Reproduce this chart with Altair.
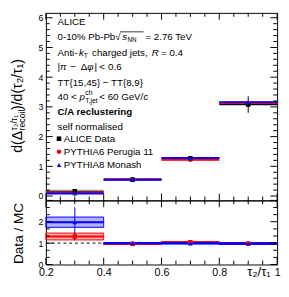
import altair as alt
import pandas as pd

# ---------------- data ----------------
bin_lo = [0.2, 0.4, 0.6, 0.8]
bin_hi = [0.4, 0.6, 0.8, 1.0]
bin_mid = [0.3, 0.5, 0.7, 0.9]
alice = [0.16, 0.55, 1.27, 3.08]
alice_stat = [0.05, 0.04, 0.06, 0.28]
alice_syst = [0.06, 0.04, 0.04, 0.05]
perugia = [0.12, 0.565, 1.22, 3.13]
perugia_err = [0.015, 0.02, 0.03, 0.04]
monash = [0.085, 0.55, 1.28, 3.16]
monash_err = [0.015, 0.02, 0.03, 0.04]
ratio_perugia = [1.31, 0.97, 1.04, 0.98]
ratio_perugia_band = [0.16, 0.03, 0.03, 0.03]
ratio_perugia_lo = [1.2, 0.95, 1.01, 0.96]
ratio_perugia_hi = [1.42, 0.99, 1.07, 1.0]
ratio_monash = [1.98, 1.0, 0.99, 0.98]
ratio_monash_band = [0.24, 0.03, 0.03, 0.03]
ratio_monash_lo = [1.14, 0.97, 0.97, 0.96]
ratio_monash_hi = [2.68, 1.03, 1.01, 1.0]

x_ticks = [0.2, 0.4, 0.6, 0.8, 1.0]
y_ticks_top = [0, 1, 2, 3, 4, 5, 6]
y_ticks_bot = [0, 1, 2]

df = pd.DataFrame(dict(
    lo=bin_lo, hi=bin_hi, mid=bin_mid,
    alice=alice, alice_stat=alice_stat, alice_syst=alice_syst,
    perugia=perugia, perugia_err=perugia_err,
    monash=monash, monash_err=monash_err,
    r6=ratio_perugia, r6b=ratio_perugia_band, r6lo=ratio_perugia_lo, r6hi=ratio_perugia_hi,
    r8=ratio_monash, r8b=ratio_monash_band, r8lo=ratio_monash_lo, r8hi=ratio_monash_hi,
))

FONT = "Liberation Sans"
RED = "#ff0000"
BLUE = "#0000ff"
W = 238
HT = 193
HB = 66

xs = alt.Scale(domain=[0.2, 1.0], nice=False, zero=False)
ys_top = alt.Scale(domain=[-0.147, 6.1635], nice=False, zero=False)
ys_bot = alt.Scale(domain=[0, 3], nice=False, zero=False)

ya_top = alt.Axis(values=y_ticks_top, format="d", ticks=False, domain=False, grid=False,
                  title=None, labelFont=FONT, labelFontSize=9, labelPadding=3, labelColor="black")
ya_bot = alt.Axis(values=y_ticks_bot, format="d", ticks=False, domain=False, grid=False,
                  title=None, labelFont=FONT, labelFontSize=9, labelPadding=3, labelColor="black")
xa_bot = alt.Axis(values=x_ticks, ticks=False, domain=False, grid=False, title=None,
                  labelFont=FONT, labelFontSize=11, labelPadding=2, labelFlush=False,
                  labelColor="black",
                  labelExpr="datum.value == 1 ? '1' : format(datum.value, '.1f')")

one = pd.DataFrame({"a": [0]})

# screen -> plot offsets
OX, OYT, OYB = 45.5, 8, 201


def piece(s, x, y, size=10, style="normal", weight="normal", angle=0,
          align="left", baseline="middle", color="black", oy=OYT):
    """A text piece placed at screen position (x, y)."""
    return alt.Chart(one).mark_text(
        text=s, font=FONT, fontSize=size, fontStyle=style, fontWeight=weight,
        angle=angle, align=align, baseline=baseline, color=color
    ).encode(x=alt.value(x - OX), y=alt.value(y - oy))


FS = 10
top_text = [
    piece("ALICE", 57.5, 17, FS),
    # 0-10% Pb-Pb sqrt(s_NN) = 2.76 TeV
    piece("0-10% Pb-Pb", 57.5, 33, FS),
    piece("√", 117, 33, FS),
    piece("s", 124, 33, FS, style="italic"),
    piece("NN", 129.5, 36, 6.5),
    piece("= 2.76 TeV", 148, 33, FS),
    # Anti-kT charged jets, R = 0.4
    piece("Anti-", 57.5, 49, FS),
    piece("k", 79.5, 49, FS, style="italic"),
    piece("T", 84.5, 52, 7),
    piece("charged jets,", 93, 49, FS),
    piece("R", 154.5, 49, FS, style="italic"),
    piece("= 0.4", 164, 49, FS),
    # |pi - dphi| < 0.6
    piece("|", 57.5, 64, FS),
    piece("π", 60, 64, FS, style="italic"),
    piece("−", 70.5, 64, FS),
    piece("Δ", 81.5, 64, FS),
    piece("φ", 88, 64, FS, style="italic"),
    piece("|", 95.5, 64, FS),
    piece("<", 100.5, 64, FS),
    piece("0.6", 109.5, 64, FS),
    piece("TT{15,45} − TT{8,9}", 57.5, 80, FS),
    # 40 < p^ch_T,jet < 60 GeV/c
    piece("40 <", 57.5, 95, FS),
    piece("p", 80, 95, FS, style="italic"),
    piece("ch", 86, 91, 7),
    piece("T,jet", 86, 98.5, 7),
    piece("< 60 GeV/", 100.5, 95, FS),
    piece("c", 146, 95, FS, style="italic"),
    piece("C/A reclustering", 57.5, 110.5, FS, weight="bold"),
    piece("self normalised", 57.5, 125.5, FS),
]
# sqrt overline
top_text.append(alt.Chart(one).mark_rule(color="black", strokeWidth=0.8).encode(
    x=alt.value(122 - OX), x2=alt.value(146 - OX), y=alt.value(27.5 - OYT)))

# legend
leg_rows = [("ALICE Data", "square", "black", 137.5),
            ("PYTHIA6 Perugia 11", "circle", RED, 151),
            ("PYTHIA8 Monash", "triangle-up", BLUE, 164.5)]
for lab, shp, col, yy in leg_rows:
    top_text.append(alt.Chart(one).mark_point(shape=shp, filled=True, size=22, color=col,
                                              opacity=1).encode(x=alt.value(59 - OX),
                                                                y=alt.value(yy - OYT)))
    top_text.append(piece(lab, 64, yy, FS))

# rotated y title (top panel), reads bottom -> top
yt = [
    piece("d(Δ", 17, 152, 14.5, angle=270),
    piece("τ₂/τ₁", 12.5, 129, 9, angle=270),
    piece("recoil", 21.5, 129, 9, angle=270),
    piece(")/d(τ₂/τ₁)", 17, 108, 14.5, angle=270),
]
# invisible guard fixing the left extent of the whole figure
yt.append(alt.Chart(one).mark_rule(opacity=0, strokeWidth=0.1).encode(
    x=alt.value(7.5 - OX), x2=alt.value(9 - OX), y=alt.value(100)))

base = alt.Chart(df)


def X(f, axis=None):
    return alt.X(f, type="quantitative", scale=xs, axis=axis)


# ---------------- top panel ----------------
YT = lambda f: alt.Y(f, type="quantitative", scale=ys_top, axis=ya_top)

t_syst = base.transform_calculate(a="datum.alice - datum.alice_syst",
                                  b="datum.alice + datum.alice_syst").mark_rect(
    color="#a8a8a8", opacity=0.7).encode(x=X("lo"), x2="hi", y=YT("a"), y2="b")
t_data = base.mark_rule(color="black", strokeWidth=1).encode(x=X("lo"), x2="hi", y=YT("alice"))
t_p6b = base.transform_calculate(a="datum.perugia - datum.perugia_err",
                                 b="datum.perugia + datum.perugia_err").mark_rect(
    color=RED, opacity=0.3).encode(x=X("lo"), x2="hi", y=YT("a"), y2="b")
t_p6 = base.mark_rule(color=RED, strokeWidth=2).encode(x=X("lo"), x2="hi", y=YT("perugia"))
t_p8b = base.transform_calculate(a="datum.monash - datum.monash_err",
                                 b="datum.monash + datum.monash_err").mark_rect(
    color=BLUE, opacity=0.3).encode(x=X("lo"), x2="hi", y=YT("a"), y2="b")
t_p8 = base.mark_rule(color=BLUE, strokeWidth=2).encode(x=X("lo"), x2="hi", y=YT("monash"))
t_err = base.transform_calculate(a="datum.alice - datum.alice_stat",
                                 b="datum.alice + datum.alice_stat").mark_rule(
    color="black", strokeWidth=1).encode(x=X("mid"), y=YT("a"), y2="b")
t_m6 = base.mark_point(shape="circle", filled=True, size=22, color=RED, opacity=1).encode(
    x=X("mid"), y=YT("perugia"))
t_md = base.mark_point(shape="square", filled=True, size=22, color="black", opacity=1).encode(
    x=X("mid"), y=YT("alice"))
t_m8 = base.mark_point(shape="triangle-up", filled=True, size=24, color=BLUE, opacity=1).encode(
    x=X("mid"), y=YT("monash"))


def tick_layers(xmaj, xmin, ymaj, ymin, H, Yenc, xaxis):
    lays = []
    for vals, ln in ((xmaj, 7), (xmin, 4)):
        d = alt.Chart(pd.DataFrame({"v": vals}))
        lays.append(d.mark_rule(color="black", strokeWidth=1).encode(
            x=X("v", xaxis), y=alt.value(H), y2=alt.value(H - ln)))
        lays.append(d.mark_rule(color="black", strokeWidth=1).encode(
            x=X("v", xaxis), y=alt.value(0), y2=alt.value(ln)))
    for vals, ln in ((ymaj, 7), (ymin, 4)):
        d = alt.Chart(pd.DataFrame({"v": vals}))
        lays.append(d.mark_rule(color="black", strokeWidth=1).encode(
            y=Yenc("v"), x=alt.value(0), x2=alt.value(ln)))
        lays.append(d.mark_rule(color="black", strokeWidth=1).encode(
            y=Yenc("v"), x=alt.value(W), x2=alt.value(W - ln)))
    return lays


x_minor = [round(0.2 + 0.05 * i, 2) for i in range(17) if i % 4 != 0]
y_minor_top = [round(0.2 * i, 1) for i in range(31) if i % 5 != 0]
y_minor_bot = [i / 3 for i in range(10) if i % 3 != 0]

top_ticks = tick_layers(x_ticks, x_minor, y_ticks_top, y_minor_top, HT, YT, None)

top = alt.layer(t_syst, t_data, t_p6b, t_p6, t_p8b, t_p8, t_err, t_m6, t_md, t_m8,
                *top_ticks, *top_text, *yt).properties(width=W, height=HT)

# ---------------- bottom panel ----------------
YB = lambda f: alt.Y(f, type="quantitative", scale=ys_bot, axis=ya_bot)
XB = lambda f: X(f, xa_bot)

b_one = alt.Chart(pd.DataFrame({"lo": [0.2], "hi": [1.0], "y": [1.0]})).mark_rule(
    color="black", strokeWidth=1, strokeDash=[3, 3]).encode(x=XB("lo"), x2="hi", y=YB("y"))
b_r6b = base.transform_calculate(a="datum.r6 - datum.r6b", b="datum.r6 + datum.r6b").mark_rect(
    fill=RED, fillOpacity=0.3, stroke=RED, strokeWidth=1).encode(x=XB("lo"), x2="hi", y=YB("a"), y2="b")
b_r6 = base.mark_rule(color=RED, strokeWidth=2).encode(x=XB("lo"), x2="hi", y=YB("r6"))
b_r8b = base.transform_calculate(a="datum.r8 - datum.r8b", b="datum.r8 + datum.r8b").mark_rect(
    fill=BLUE, fillOpacity=0.3, stroke=BLUE, strokeWidth=1).encode(x=XB("lo"), x2="hi", y=YB("a"), y2="b")
b_r8 = base.mark_rule(color=BLUE, strokeWidth=2).encode(x=XB("lo"), x2="hi", y=YB("r8"))
b_e6 = base.mark_rule(color=RED, strokeWidth=1).encode(x=XB("mid"), y=YB("r6lo"), y2="r6hi")
b_e8 = base.mark_rule(color=BLUE, strokeWidth=1).encode(x=XB("mid"), y=YB("r8lo"), y2="r8hi")
b_m6 = base.mark_point(shape="square", filled=True, size=22, color=RED, opacity=1).encode(
    x=XB("mid"), y=YB("r6"))
b_m8 = base.mark_point(shape="triangle-up", filled=True, size=24, color=BLUE, opacity=1).encode(
    x=XB("mid"), y=YB("r8"))

bot_ticks = tick_layers(x_ticks, x_minor, [0, 1, 2, 3], y_minor_bot, HB, YB, xa_bot)
bot_text = [
    piece("Data / MC", 18, 235, 14, angle=270, align="center", oy=OYB),
    piece("τ₂/τ₁", 277, 281.5, 13.5, align="right", baseline="bottom", oy=OYB),
]

bottom = alt.layer(b_one, b_r6b, b_r6, b_r8b, b_r8, b_e6, b_e8, b_m6, b_m8,
                   *bot_ticks, *bot_text).properties(width=W, height=HB)

chart = alt.vconcat(top, bottom, spacing=0, bounds="flush").properties(
    padding={"left": 0, "top": 0, "right": 0, "bottom": 0}
).configure_view(stroke="black", strokeWidth=1)

chart.save("out.html", embed_options={"renderer": "svg", "actions": False})
